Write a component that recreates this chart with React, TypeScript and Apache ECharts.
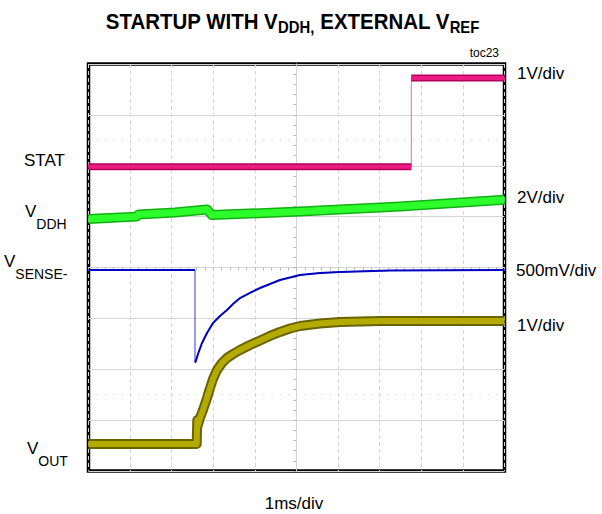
import React, { useEffect, useRef } from "react";
import * as echarts from "echarts";

// Oscilloscope screen: 10 horizontal divisions (1 ms/div), 8 vertical divisions
const timeRange = [0, 10];
const divRange = [0, 8];
const dottedRows = [6.5, 1.5];

// STAT trace (divisions from bottom of screen)
const statTime = [0, 7.76, 7.76, 10];
const statLevel = [5.98, 5.98, 7.725, 7.725];

// VDDH trace
const vddhTime = [0, 1.15, 1.2, 2.08, 2.85, 2.97, 5.08, 7.49, 10];
const vddhLevel = [4.955, 5.0, 5.04, 5.08, 5.14, 5.03, 5.1, 5.2, 5.33];

// VSENSE- trace
const senseTime = [
  0, 2.56, 2.56, 2.572, 2.632, 2.728, 2.849, 2.993, 3.161, 3.329, 3.474, 3.642, 3.882, 4.123, 4.363,
  4.603, 5.084, 5.565, 6.046, 7.248, 10,
];
const senseLevel = [
  3.95, 3.95, 2.16, 2.143, 2.3, 2.516, 2.713, 2.909, 3.047, 3.165, 3.283, 3.4, 3.5, 3.597, 3.676,
  3.755, 3.853, 3.892, 3.912, 3.941, 3.95,
];

// VOUT trace
const voutTime = [
  0, 2.6, 2.615, 2.63, 2.68, 2.752, 2.849, 2.921, 2.993, 3.089, 3.209, 3.329, 3.474, 3.642, 3.882,
  4.123, 4.363, 4.603, 4.844, 5.084, 5.565, 6.046, 7.007, 10,
];
const voutLevel = [
  0.53, 0.53, 1.0, 0.9, 1.042, 1.199, 1.435, 1.631, 1.808, 1.985, 2.123, 2.221, 2.3, 2.379, 2.477,
  2.565, 2.654, 2.733, 2.801, 2.85, 2.899, 2.929, 2.949, 2.95,
];

const scaleLabels = ["1V/div", "2V/div", "500mV/div", "1V/div"];
const timeScaleLabel = "1ms/div";
const figureTag = "toc23";

const FONT = "'Liberation Sans', Arial, Helvetica, sans-serif";

const toPairs = (t: number[], v: number[]) => t.map((x, i) => [x, v[i]]);
const toBand = (t: number[], v: number[]) => {
  const out: any[] = [];
  t.forEach((x, i) => {
    if (i > 0 && x === t[i - 1]) out.push([x, null]);
    out.push([x, v[i]]);
  });
  return out;
};

function line(data: any[], color: string, width: number, extra: any = {}) {
  return {
    type: "line",
    data,
    symbol: "none",
    showSymbol: false,
    silent: true,
    connectNulls: false,
    clip: true,
    lineStyle: { color, width, join: "round" },
    ...extra,
  };
}

function subLabel(main: string, sub: string, x: number, lineTop: number) {
  return {
    type: "text",
    x,
    y: lineTop,
    silent: true,
    style: {
      text: `{m|${main}}{s|${sub}}`,
      textAlign: "left",
      align: "left",
      textVerticalAlign: "top",
      verticalAlign: "top",
      fill: "#000",
      rich: {
        m: { fontSize: 17, fontFamily: FONT, lineHeight: 17, verticalAlign: "top", fill: "#000" },
        s: { fontSize: 14, fontFamily: FONT, lineHeight: 14, verticalAlign: "top", padding: [13.5, 0, 0, 0], fill: "#000" },
      },
    },
  };
}

function plainText(text: string, x: number, y: number, size: number, align = "left") {
  return {
    type: "text",
    x,
    y,
    silent: true,
    style: {
      text,
      font: `${size}px ${FONT}`,
      fontSize: size,
      fontFamily: FONT,
      fill: "#000",
      textAlign: align,
      align,
      textVerticalAlign: "middle",
      verticalAlign: "middle",
    },
  };
}

export default function App() {
  const ref = useRef<HTMLDivElement>(null);
  useEffect(() => {
    if (!ref.current) return;
    const chart = echarts.init(ref.current, null, { renderer: "svg" });
    const tickStyle = { color: "#b8b8b8", width: 1 };
    const option: any = {
      animation: false,
      backgroundColor: "#fff",
      grid: {
        left: 88.5,
        right: 97.5,
        top: 64,
        bottom: 43,
        show: true,
        borderColor: "#000",
        borderWidth: 3.5,
        backgroundColor: "transparent",
      },
      xAxis: [
        {
          type: "value",
          min: timeRange[0],
          max: timeRange[1],
          interval: 1,
          axisLine: { show: false },
          axisTick: { show: false },
          axisLabel: { show: false },
          splitLine: { show: true, lineStyle: { color: "#d6d6d6", width: 1, type: [4, 3] } },
        },
        {
          type: "value",
          min: timeRange[0],
          max: timeRange[1],
          interval: 1,
          axisLine: { show: true, onZero: true, onZeroAxisIndex: 1, lineStyle: { color: "#d6d6d6", width: 1 } },
          axisTick: { show: true, inside: true, length: 3, lineStyle: tickStyle },
          minorTick: { show: true, splitNumber: 5, length: 3, lineStyle: tickStyle },
          axisLabel: { show: false },
          splitLine: { show: false },
        },
        { type: "value", min: -5, max: 5, show: false },
      ],
      yAxis: [
        {
          type: "value",
          min: divRange[0],
          max: divRange[1],
          interval: 1,
          axisLine: { show: false },
          axisTick: { show: false },
          axisLabel: { show: false },
          splitLine: { show: true, lineStyle: { color: "#d6d6d6", width: 1, type: "solid" } },
        },
        { type: "value", min: -4, max: 4, show: false },
        {
          type: "value",
          min: divRange[0],
          max: divRange[1],
          interval: 1,
          axisLine: { show: true, onZero: true, onZeroAxisIndex: 2, lineStyle: { color: "#d6d6d6", width: 1 } },
          axisTick: { show: true, inside: true, length: 3, lineStyle: tickStyle },
          minorTick: { show: true, splitNumber: 5, length: 3, lineStyle: tickStyle },
          axisLabel: { show: false },
          splitLine: { show: false },
        },
      ],
      series: [
        // graticule dotted rows
        {
          type: "line",
          data: [],
          silent: true,
          markLine: {
            silent: true,
            symbol: "none",
            label: { show: false },
            lineStyle: { color: "#c4c4c4", width: 1, type: [1, 7.32] },
            data: dottedRows.map((r) => ({ yAxis: r })),
          },
        },
        // STAT
        line(toPairs(statTime, statLevel), "#e86aa6", 1),
        line(toBand(statTime, statLevel), "#b3005a", 7),
        line(toBand(statTime, statLevel), "#ee1a83", 4),
        // VDDH
        line(toBand(vddhTime, vddhLevel), "#12b012", 10),
        line(toBand(vddhTime, vddhLevel), "#2cff2c", 7),
        // VSENSE-
        line(toPairs(senseTime, senseLevel), "#3a3ad8", 1),
        line(toBand(senseTime, senseLevel), "#0000c4", 2),
        // VOUT
        line(toBand(voutTime, voutLevel), "#6a6400", 10),
        line(toBand(voutTime, voutLevel), "#b3ab00", 6),
      ],
      graphic: [
        {
          type: "text",
          x: 292.5,
          y: 10.3,
          scaleX: 0.93,
          silent: true,
          style: {
            text: "{m|STARTUP WITH V}{s|DDH,}{m| EXTERNAL V}{s|REF}",
            textAlign: "center",
            align: "center",
            textVerticalAlign: "top",
            verticalAlign: "top",
            fill: "#000",
            rich: {
              m: { fontSize: 22, fontWeight: "bold", fontFamily: FONT, lineHeight: 22, verticalAlign: "top", fill: "#000" },
              s: { fontSize: 16, fontWeight: "bold", fontFamily: FONT, lineHeight: 16, verticalAlign: "top", padding: [8.7, 0, 0, 0], fill: "#000" },
            },
          },
        },
        plainText(figureTag, 499, 53, 12, "right"),
        plainText("STAT", 24, 160, 17),
        subLabel("V", "DDH", 25, 203),
        subLabel("V", "SENSE-", 4, 253),
        subLabel("V", "OUT", 27, 440),
        plainText(scaleLabels[0], 517, 73, 17),
        plainText(scaleLabels[1], 517, 197, 17),
        plainText(scaleLabels[2], 516, 270, 17),
        plainText(scaleLabels[3], 517, 325, 17),
        plainText(timeScaleLabel, 294, 503, 17, "center"),
      ],
    };
    chart.setOption(option);
    return () => chart.dispose();
  }, []);
  return (
    <div
      ref={ref}
      style={{ position: "absolute", left: 0, top: 0, width: 602, height: 514, background: "#fff" }}
    />
  );
}
